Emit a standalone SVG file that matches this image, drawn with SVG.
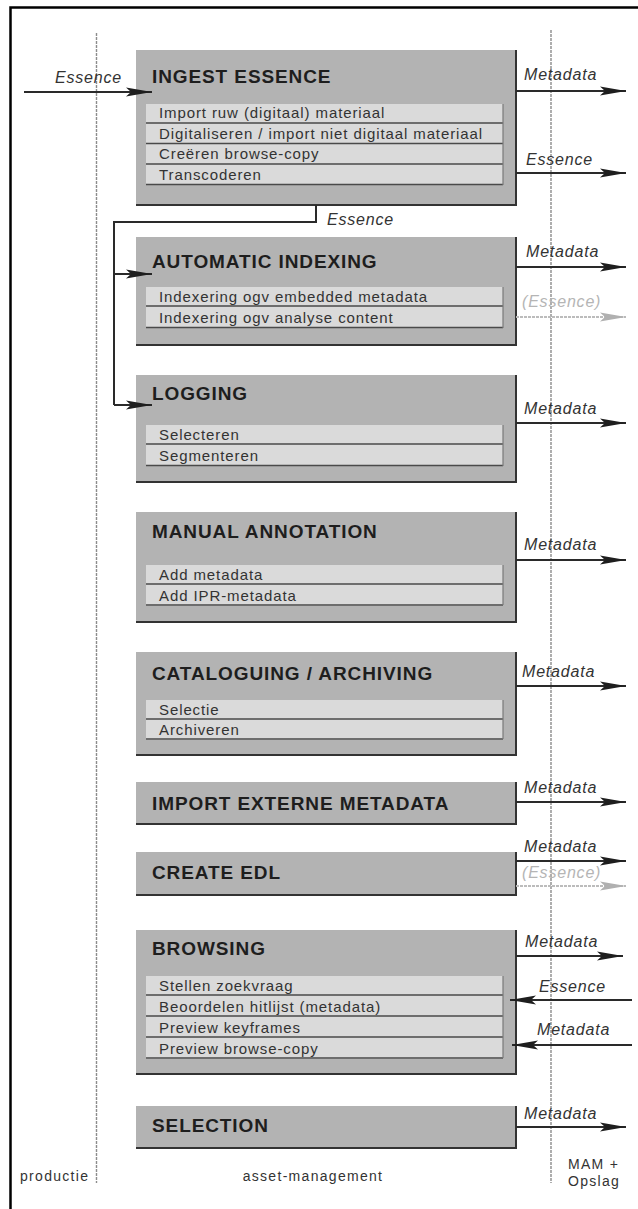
<svg xmlns="http://www.w3.org/2000/svg" width="638" height="1209" viewBox="0 0 638 1209">
<defs>
<style>
.frame{stroke:#000;stroke-width:2.5;fill:none}
.lane{stroke:#8c8c8c;stroke-width:1.4;stroke-dasharray:3 1;fill:none}
.box{fill:#b3b3b3}
.edge{stroke:#333;stroke-width:2;fill:none}
.row{fill:#dadada}
.sep{stroke:#4a4a4a;stroke-width:1.6;fill:none}
.redge{stroke:#7a7a7a;stroke-width:1.2;fill:none}
.title{font-family:"Liberation Sans",Arial,sans-serif;font-weight:bold;font-size:19px;letter-spacing:0.9px;fill:#1e1e1e}
.item{font-family:"Liberation Sans",Arial,sans-serif;font-size:15px;letter-spacing:0.9px;fill:#333}
.lbl{font-family:"Liberation Sans",Arial,sans-serif;font-style:italic;font-size:16px;letter-spacing:0.8px;fill:#333}
.faint{fill:#b5b5b5}
.lane-lbl{font-family:"Liberation Sans",Arial,sans-serif;font-size:14px;letter-spacing:1.3px;fill:#333}
.flow{stroke:#2a2a2a;stroke-width:2;fill:none;marker-end:url(#ah)}
.flowg{stroke:#bcbcbc;stroke-width:2;stroke-dasharray:3 1;fill:none;marker-end:url(#ahg)}
.conn{stroke:#2a2a2a;stroke-width:2;fill:none}
</style>
<marker id="ah" markerUnits="userSpaceOnUse" markerWidth="26" markerHeight="11" viewBox="0 0 26 11" refX="26" refY="5.5" orient="auto">
<path d="M0,1 L26,5.5 L0,10 L5,5.5 Z" fill="#1e1e1e"/>
</marker>
<marker id="ahg" markerUnits="userSpaceOnUse" markerWidth="26" markerHeight="11" viewBox="0 0 26 11" refX="26" refY="5.5" orient="auto">
<path d="M0,1 L26,5.5 L0,10 L5,5.5 Z" fill="#b0b0b0"/>
</marker>
</defs>
<rect width="638" height="1209" fill="#fff"/>
<g id="frame">
<path class="frame" d="M10.5,1209 V7.5 H638"/>
<path class="lane" d="M96.5,33 V1183"/>
<path class="lane" d="M551,30 V1183"/>
<text class="lane-lbl" x="20" y="1181">productie</text>
<text class="lane-lbl" x="313" y="1181" text-anchor="middle">asset-management</text>
<text class="lane-lbl" x="568" y="1169">MAM +</text>
<text class="lane-lbl" x="568" y="1186">Opslag</text>
</g>

<g id="ingest-essence">
<rect class="box" x="136" y="50" width="380" height="155"/>
<path class="edge" d="M516,50 V205 H136"/>
<text class="title" x="152" y="83">INGEST ESSENCE</text>
<rect class="row" x="146" y="104" width="357" height="81"/>
<path class="sep" d="M146,123 H503 M146,143.5 H503 M146,164 H503 M146,184.5 H503"/>
<path class="redge" d="M503,104 V185"/>
<text class="item" x="159" y="118">Import ruw (digitaal) materiaal</text>
<text class="item" x="159" y="138.5">Digitaliseren / import niet digitaal materiaal</text>
<text class="item" x="159" y="159">Creëren browse-copy</text>
<text class="item" x="159" y="179.5">Transcoderen</text>
</g>

<g id="automatic-indexing">
<rect class="box" x="136" y="237" width="380" height="108"/>
<path class="edge" d="M516,237 V345 H136"/>
<text class="title" x="152" y="268">AUTOMATIC INDEXING</text>
<rect class="row" x="146" y="287" width="357" height="41"/>
<path class="sep" d="M146,306 H503 M146,327.5 H503"/>
<path class="redge" d="M503,287 V328"/>
<text class="item" x="159" y="301.5">Indexering ogv embedded metadata</text>
<text class="item" x="159" y="322.5">Indexering ogv analyse content</text>
</g>

<g id="logging">
<rect class="box" x="136" y="375" width="380" height="107"/>
<path class="edge" d="M516,375 V482 H136"/>
<text class="title" x="152" y="400">LOGGING</text>
<rect class="row" x="146" y="425" width="357" height="41"/>
<path class="sep" d="M146,444 H503 M146,465.5 H503"/>
<path class="redge" d="M503,425 V466"/>
<text class="item" x="159" y="439.5">Selecteren</text>
<text class="item" x="159" y="460.5">Segmenteren</text>
</g>

<g id="manual-annotation">
<rect class="box" x="136" y="512" width="380" height="110"/>
<path class="edge" d="M516,512 V622 H136"/>
<text class="title" x="152" y="538">MANUAL ANNOTATION</text>
<rect class="row" x="146" y="565" width="357" height="41"/>
<path class="sep" d="M146,584 H503 M146,605 H503"/>
<path class="redge" d="M503,565 V605"/>
<text class="item" x="159" y="579.5">Add metadata</text>
<text class="item" x="159" y="600.5">Add IPR-metadata</text>
</g>

<g id="cataloguing-archiving">
<rect class="box" x="136" y="652" width="380" height="103"/>
<path class="edge" d="M516,652 V755 H136"/>
<text class="title" x="152" y="680">CATALOGUING / ARCHIVING</text>
<rect class="row" x="146" y="700" width="357" height="40"/>
<path class="sep" d="M146,719 H503 M146,739 H503"/>
<path class="redge" d="M503,700 V739"/>
<text class="item" x="159" y="714.5">Selectie</text>
<text class="item" x="159" y="734.5">Archiveren</text>
</g>

<g id="import-externe-metadata">
<rect class="box" x="136" y="782" width="380" height="42"/>
<path class="edge" d="M516,782 V824 H136"/>
<text class="title" x="152" y="810">IMPORT EXTERNE METADATA</text>
</g>

<g id="create-edl">
<rect class="box" x="136" y="852" width="380" height="43"/>
<path class="edge" d="M516,852 V895 H136"/>
<text class="title" x="152" y="879">CREATE EDL</text>
</g>

<g id="browsing">
<rect class="box" x="136" y="930" width="380" height="144"/>
<path class="edge" d="M516,930 V1074 H136"/>
<text class="title" x="152" y="955">BROWSING</text>
<rect class="row" x="146" y="976" width="357" height="83"/>
<path class="sep" d="M146,995 H503 M146,1016 H503 M146,1037 H503 M146,1058 H503"/>
<path class="redge" d="M503,976 V1058"/>
<text class="item" x="159" y="990.5">Stellen zoekvraag</text>
<text class="item" x="159" y="1011.5">Beoordelen hitlijst (metadata)</text>
<text class="item" x="159" y="1032.5">Preview keyframes</text>
<text class="item" x="159" y="1053.5">Preview browse-copy</text>
</g>

<g id="selection">
<rect class="box" x="136" y="1106" width="380" height="42"/>
<path class="edge" d="M516,1106 V1148 H136"/>
<text class="title" x="152" y="1132">SELECTION</text>
</g>

<g id="connectors">
<path class="flow" d="M24,92 H152"/>
<text class="lbl" x="55" y="83">Essence</text>

<path class="conn" d="M316,205 V222 H114 V405"/>
<path class="flow" d="M114,274 H152"/>
<path class="flow" d="M114,405 H152"/>
<text class="lbl" x="327" y="225">Essence</text>

<path class="flow" d="M516,91 H626"/>
<text class="lbl" x="524" y="80">Metadata</text>
<path class="flow" d="M516,173 H626"/>
<text class="lbl" x="526" y="165">Essence</text>

<path class="flow" d="M516,267 H626"/>
<text class="lbl" x="526" y="257">Metadata</text>
<path class="flowg" d="M516,317 H626"/>
<text class="lbl faint" x="522" y="307">(Essence)</text>

<path class="flow" d="M516,423 H626"/>
<text class="lbl" x="524" y="414">Metadata</text>

<path class="flow" d="M516,560 H626"/>
<text class="lbl" x="524" y="550">Metadata</text>

<path class="flow" d="M516,686 H626"/>
<text class="lbl" x="522" y="677">Metadata</text>

<path class="flow" d="M516,802 H626"/>
<text class="lbl" x="524" y="793">Metadata</text>

<path class="flow" d="M516,861 H626"/>
<text class="lbl" x="524" y="852">Metadata</text>
<path class="flowg" d="M516,886 H626"/>
<text class="lbl faint" x="522" y="878">(Essence)</text>

<path class="flow" d="M516,956 H623"/>
<text class="lbl" x="525" y="947">Metadata</text>
<path class="flow" d="M632,1000 H510"/>
<text class="lbl" x="539" y="992">Essence</text>
<path class="flow" d="M632,1045 H512"/>
<text class="lbl" x="537" y="1035">Metadata</text>

<path class="flow" d="M516,1127 H626"/>
<text class="lbl" x="524" y="1119">Metadata</text>
</g>
</svg>
